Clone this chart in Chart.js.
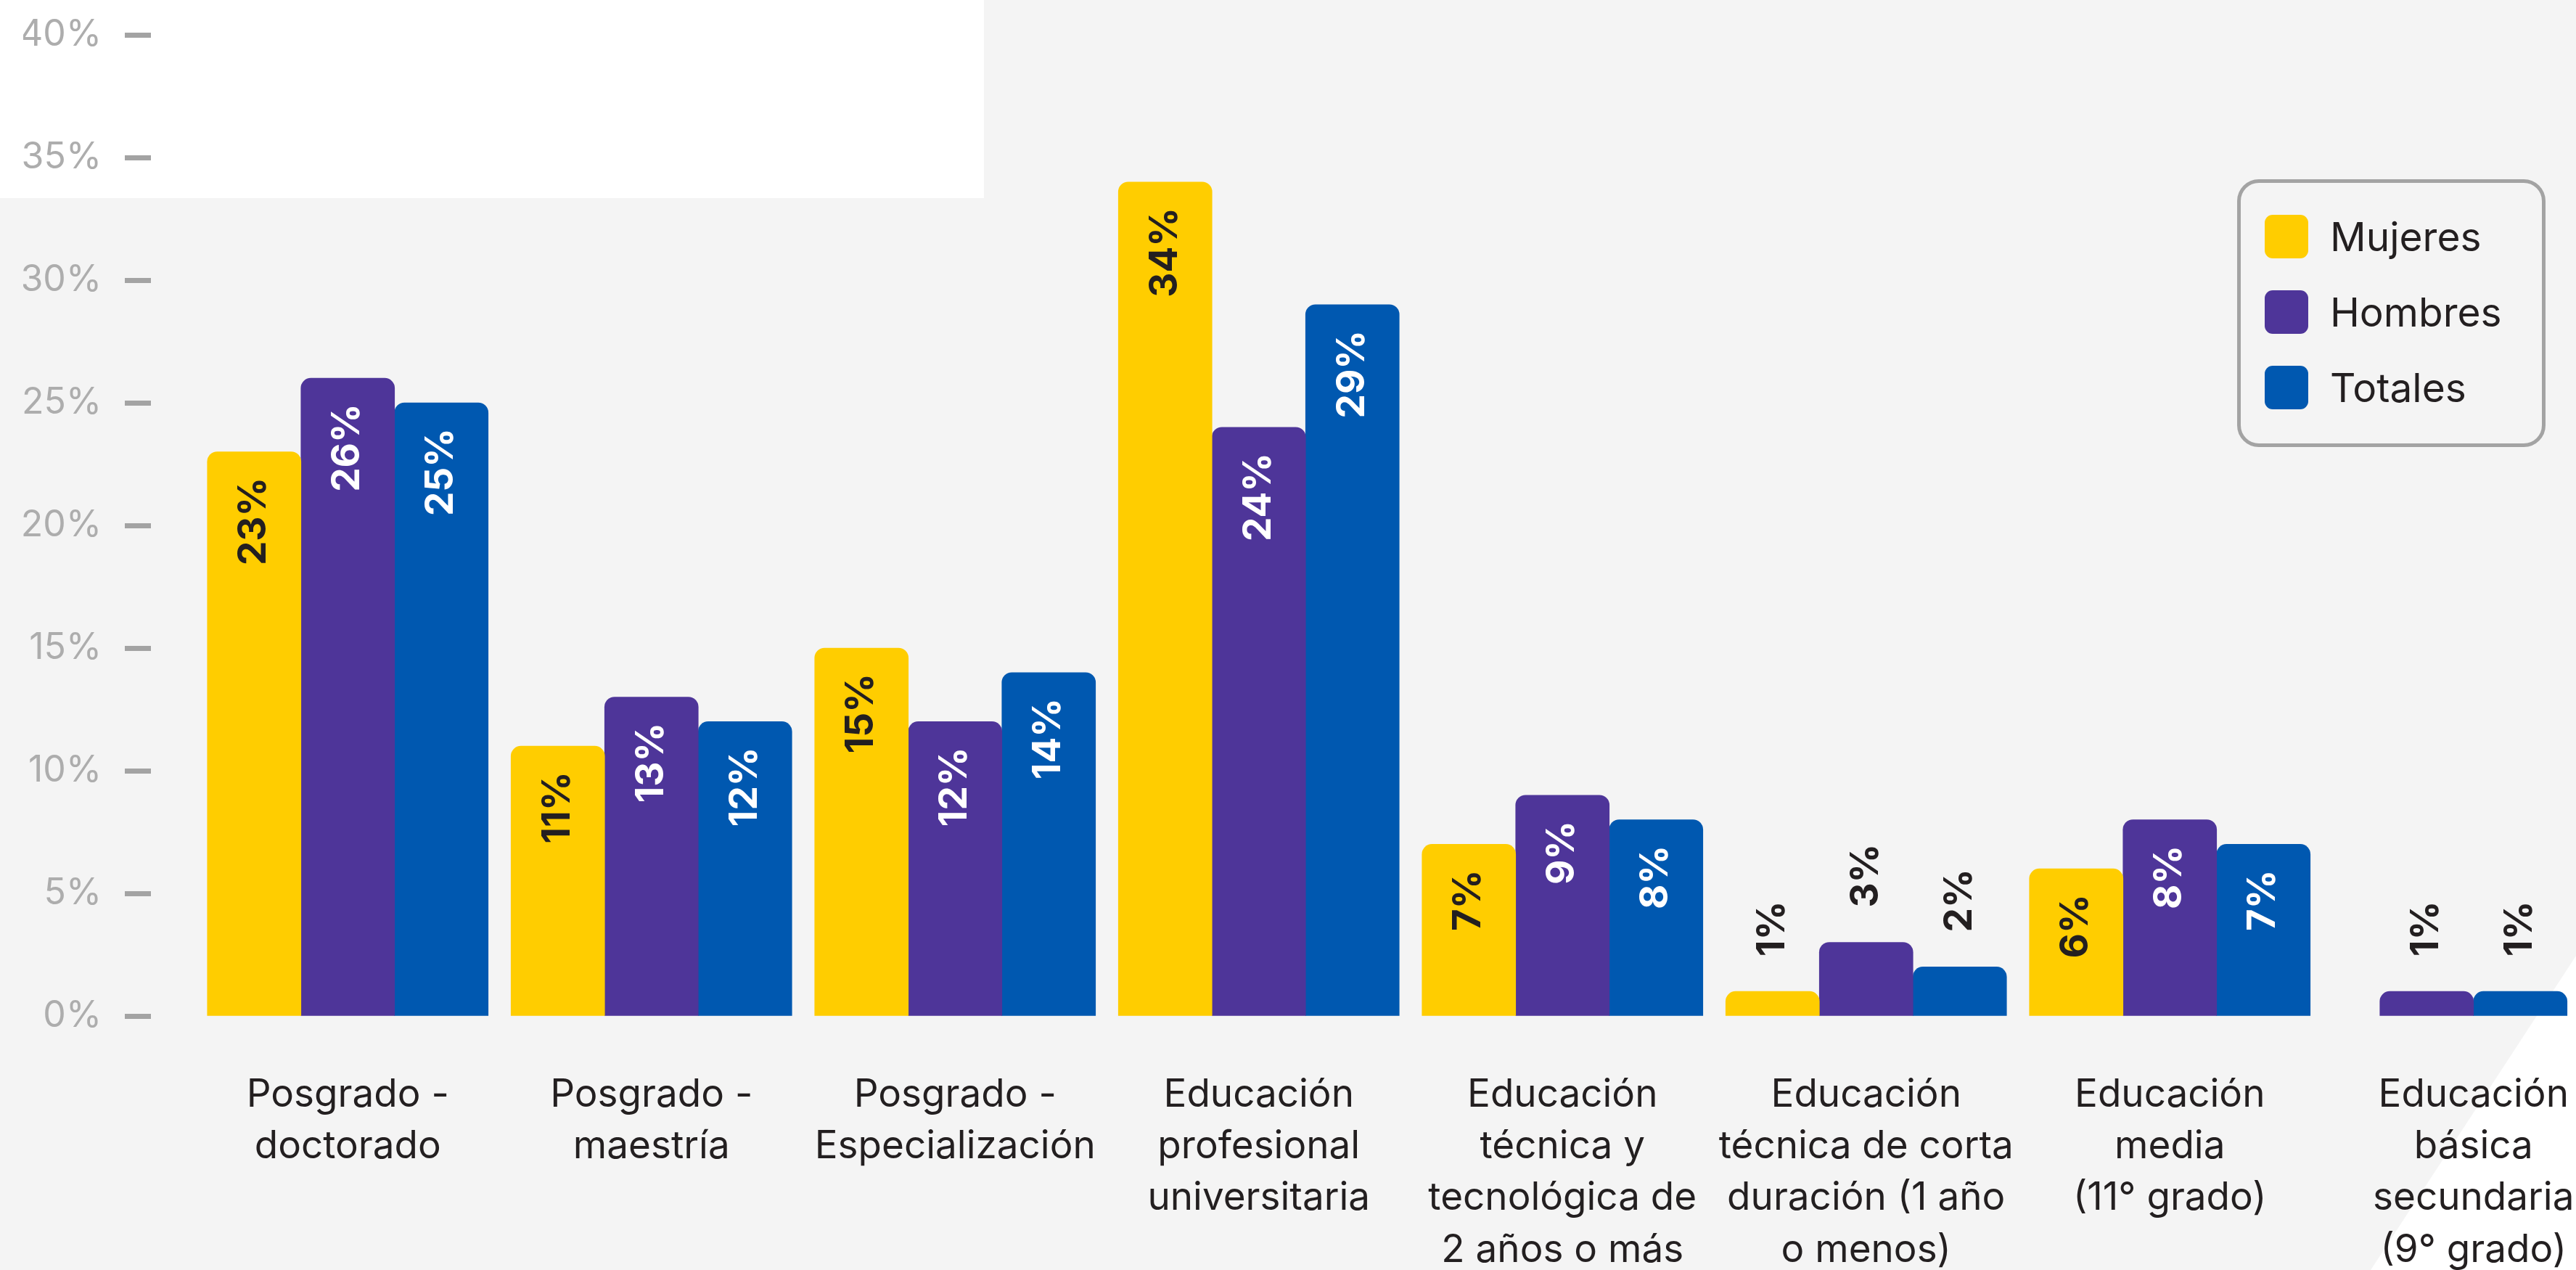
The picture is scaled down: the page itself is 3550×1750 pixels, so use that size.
<!DOCTYPE html>
<html lang="es">
<head>
<meta charset="utf-8">
<title>Nivel educativo por sexo</title>
<script src="https://cdn.jsdelivr.net/npm/chart.js@4.4.1/dist/chart.umd.min.js"></script>
<style>
  html, body { margin: 0; padding: 0; background: #f4f4f4; overflow: hidden; }
  #wrap { position: relative; width: 3630px; height: 1750px; }
  #legend {
    position: absolute; left: 3083px; top: 247px; width: 415px; height: 359px;
    border: 5px solid #a3a3a3; border-radius: 30px; box-sizing: content-box;
    font-family: Inter, "Noto Sans", sans-serif; font-size: 55px; color: #231f20;
  }
  #legend .item { position: absolute; left: 33px; height: 60px; display: flex; align-items: center; }
  #legend .sw { width: 60px; height: 60px; border-radius: 11px; margin-right: 30px; }
</style>
</head>
<body>
<div id="wrap">
  <canvas id="chart"></canvas>
  <div id="legend"></div>
</div>
<script>
// Categories (multi-line labels as in the original)
const categories = [
  ['Posgrado -', 'doctorado'],
  ['Posgrado -', 'maestría'],
  ['Posgrado -', 'Especialización'],
  ['Educación', 'profesional', 'universitaria'],
  ['Educación', 'técnica y', 'tecnológica de', '2 años o más'],
  ['Educación', 'técnica de corta', 'duración (1 año', 'o menos)'],
  ['Educación', 'media', '(11° grado)'],
  ['Educación', 'básica', 'secundaria', '(9° grado)']
];

// Series values (%)
const mujeres = [23, 11, 15, 34, 7, 1, 6, null];
const hombres = [26, 13, 12, 24, 9, 3, 8, 1];
const totales = [25, 12, 14, 29, 8, 2, 7, 1];

const seriesNames = ['Mujeres', 'Hombres', 'Totales'];
const seriesColors = ['#ffcd00', '#4e3599', '#0058b0'];
const labelColors = ['#231f20', '#ffffff', '#ffffff'];

// Y axis ticks
const yTicks = [0, 5, 10, 15, 20, 25, 30, 35, 40];

const FONT = 'Inter, "Noto Sans", sans-serif';
const DARK = '#231f20';

// Page decoration: grey background, white block top-left, white corner bottom-right
const backdrop = {
  id: 'backdrop',
  beforeDraw(chart) {
    const ctx = chart.ctx;
    ctx.save();
    ctx.fillStyle = '#f4f4f4';
    ctx.fillRect(0, 0, chart.width, chart.height);
    ctx.fillStyle = '#ffffff';
    ctx.fillRect(0, 0, 1356, 273);
    ctx.beginPath();
    ctx.moveTo(3550, 1317);
    ctx.lineTo(3630, 1195);
    ctx.lineTo(3630, 1750);
    ctx.lineTo(3267, 1750);
    ctx.closePath();
    ctx.fill();
    ctx.restore();
  }
};

// Rotated value labels, inside the bar top or above small bars
const valueLabels = {
  id: 'valueLabels',
  afterDatasetsDraw(chart) {
    const ctx = chart.ctx;
    ctx.save();
    ctx.font = 'bold 53px ' + FONT;
    chart.data.datasets.forEach((ds, i) => {
      const meta = chart.getDatasetMeta(i);
      meta.data.forEach((bar, j) => {
        const v = ds.data[j];
        if (v === null || v === undefined) return;
        ctx.save();
        if (v > 3) {
          ctx.translate(bar.x, bar.y + 35);
          ctx.rotate(-Math.PI / 2);
          ctx.textAlign = 'right';
          ctx.fillStyle = labelColors[i];
        } else {
          ctx.translate(bar.x, bar.y - 48);
          ctx.rotate(-Math.PI / 2);
          ctx.textAlign = 'left';
          ctx.fillStyle = DARK;
        }
        ctx.textBaseline = 'middle';
        ctx.fillText(v + '%', 0, 0);
        ctx.restore();
      });
    });
    ctx.restore();
  }
};

const datasets = [mujeres, hombres, totales].map((data, i) => ({
  label: seriesNames[i],
  data: data,
  backgroundColor: seriesColors[i],
  borderWidth: 0,
  borderRadius: { topLeft: 14, topRight: 14, bottomLeft: 0, bottomRight: 0 },
  borderSkipped: 'bottom',
  barThickness: 129,
  skipNull: true
}));

const chart = new Chart(document.getElementById('chart'), {
  type: 'bar',
  data: { labels: categories, datasets: datasets },
  plugins: [backdrop, valueLabels],
  options: {
    responsive: true,
    maintainAspectRatio: false,
    animation: false,
    layout: { padding: { top: 48, left: 32, right: 12, bottom: 0 } },
    plugins: {
      legend: { display: false },
      tooltip: { enabled: false }
    },
    scales: {
      x: {
        grid: { display: false },
        border: { display: false },
        ticks: {
          color: DARK,
          font: { family: FONT, size: 53, lineHeight: 1.34 },
          maxRotation: 0,
          autoSkip: false,
          padding: 66
        },
        afterFit: s => { s.height = 350; }
      },
      y: {
        min: 0,
        max: 40,
        afterBuildTicks: s => { s.ticks = yTicks.map(v => ({ value: v })); },
        grid: {
          drawOnChartArea: false,
          drawTicks: true,
          tickLength: 130,
          tickWidth: 7,
          tickColor: '#a3a3a3',
          // gap next to the label, then the short dash, then empty up to the bars
          tickBorderDash: [0, 32, 36, 300]
        },
        border: { display: false },
        ticks: {
          color: '#adadad',
          font: { family: FONT, size: 50 },
          padding: 0,
          callback: v => v + '%'
        },
        afterFit: s => { s.width = 238; }
      }
    }
  }
});

// HTML legend built from the datasets
const legend = document.getElementById('legend');
chart.data.datasets.forEach((ds, i) => {
  const item = document.createElement('div');
  item.className = 'item';
  item.style.top = (44 + i * 104) + 'px';
  const sw = document.createElement('span');
  sw.className = 'sw';
  sw.style.background = ds.backgroundColor;
  const txt = document.createElement('span');
  txt.textContent = ds.label;
  item.appendChild(sw);
  item.appendChild(txt);
  legend.appendChild(item);
});
</script>
</body>
</html>
